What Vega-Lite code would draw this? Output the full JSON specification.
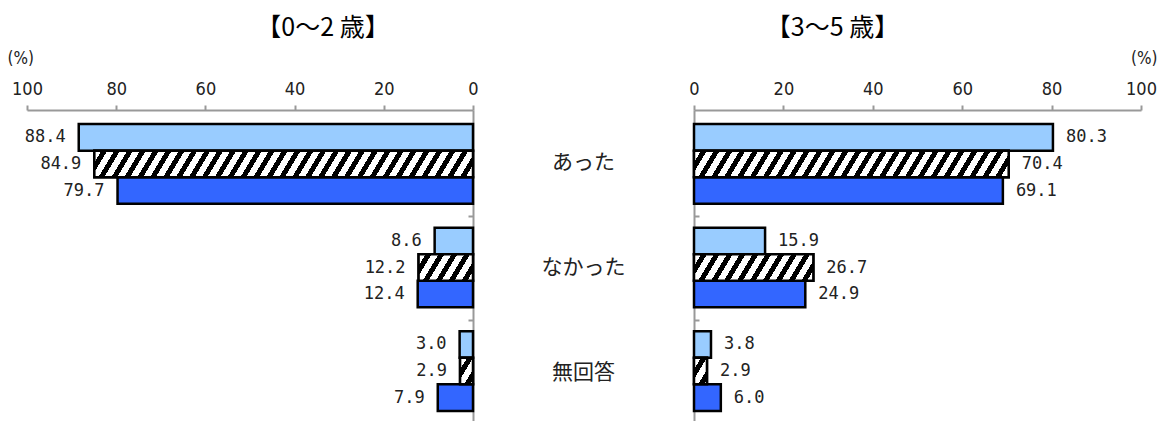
{
  "$schema": "https://vega.github.io/schema/vega-lite/v6.json",
  "background": "white",
  "padding": {"left": 7, "top": 16, "right": 0, "bottom": 0},
  "params": [
    {"name": "hatch", "value": [
{"offset":0,"color":"#fff"},{"offset":0.0177,"color":"#fff"},{"offset":0.0177,"color":"#000"},{"offset":0.0323,"color":"#000"},
{"offset":0.0323,"color":"#fff"},{"offset":0.05,"color":"#fff"},{"offset":0.05,"color":"#000"},{"offset":0.0645,"color":"#000"},
{"offset":0.0645,"color":"#fff"},{"offset":0.0823,"color":"#fff"},{"offset":0.0823,"color":"#000"},{"offset":0.0968,"color":"#000"},
{"offset":0.0968,"color":"#fff"},{"offset":0.1145,"color":"#fff"},{"offset":0.1145,"color":"#000"},{"offset":0.129,"color":"#000"},
{"offset":0.129,"color":"#fff"},{"offset":0.1468,"color":"#fff"},{"offset":0.1468,"color":"#000"},{"offset":0.1613,"color":"#000"},
{"offset":0.1613,"color":"#fff"},{"offset":0.179,"color":"#fff"},{"offset":0.179,"color":"#000"},{"offset":0.1935,"color":"#000"},
{"offset":0.1935,"color":"#fff"},{"offset":0.2113,"color":"#fff"},{"offset":0.2113,"color":"#000"},{"offset":0.2258,"color":"#000"},
{"offset":0.2258,"color":"#fff"},{"offset":0.2435,"color":"#fff"},{"offset":0.2435,"color":"#000"},{"offset":0.2581,"color":"#000"},
{"offset":0.2581,"color":"#fff"},{"offset":0.2758,"color":"#fff"},{"offset":0.2758,"color":"#000"},{"offset":0.2903,"color":"#000"},
{"offset":0.2903,"color":"#fff"},{"offset":0.3081,"color":"#fff"},{"offset":0.3081,"color":"#000"},{"offset":0.3226,"color":"#000"},
{"offset":0.3226,"color":"#fff"},{"offset":0.3403,"color":"#fff"},{"offset":0.3403,"color":"#000"},{"offset":0.3548,"color":"#000"},
{"offset":0.3548,"color":"#fff"},{"offset":0.3726,"color":"#fff"},{"offset":0.3726,"color":"#000"},{"offset":0.3871,"color":"#000"},
{"offset":0.3871,"color":"#fff"},{"offset":0.4048,"color":"#fff"},{"offset":0.4048,"color":"#000"},{"offset":0.4194,"color":"#000"},
{"offset":0.4194,"color":"#fff"},{"offset":0.4371,"color":"#fff"},{"offset":0.4371,"color":"#000"},{"offset":0.4516,"color":"#000"},
{"offset":0.4516,"color":"#fff"},{"offset":0.4694,"color":"#fff"},{"offset":0.4694,"color":"#000"},{"offset":0.4839,"color":"#000"},
{"offset":0.4839,"color":"#fff"},{"offset":0.5016,"color":"#fff"},{"offset":0.5016,"color":"#000"},{"offset":0.5161,"color":"#000"},
{"offset":0.5161,"color":"#fff"},{"offset":0.5339,"color":"#fff"},{"offset":0.5339,"color":"#000"},{"offset":0.5484,"color":"#000"},
{"offset":0.5484,"color":"#fff"},{"offset":0.5661,"color":"#fff"},{"offset":0.5661,"color":"#000"},{"offset":0.5806,"color":"#000"},
{"offset":0.5806,"color":"#fff"},{"offset":0.5984,"color":"#fff"},{"offset":0.5984,"color":"#000"},{"offset":0.6129,"color":"#000"},
{"offset":0.6129,"color":"#fff"},{"offset":0.6306,"color":"#fff"},{"offset":0.6306,"color":"#000"},{"offset":0.6452,"color":"#000"},
{"offset":0.6452,"color":"#fff"},{"offset":0.6629,"color":"#fff"},{"offset":0.6629,"color":"#000"},{"offset":0.6774,"color":"#000"},
{"offset":0.6774,"color":"#fff"},{"offset":0.6952,"color":"#fff"},{"offset":0.6952,"color":"#000"},{"offset":0.7097,"color":"#000"},
{"offset":0.7097,"color":"#fff"},{"offset":0.7274,"color":"#fff"},{"offset":0.7274,"color":"#000"},{"offset":0.7419,"color":"#000"},
{"offset":0.7419,"color":"#fff"},{"offset":0.7597,"color":"#fff"},{"offset":0.7597,"color":"#000"},{"offset":0.7742,"color":"#000"},
{"offset":0.7742,"color":"#fff"},{"offset":0.7919,"color":"#fff"},{"offset":0.7919,"color":"#000"},{"offset":0.8065,"color":"#000"},
{"offset":0.8065,"color":"#fff"},{"offset":0.8242,"color":"#fff"},{"offset":0.8242,"color":"#000"},{"offset":0.8387,"color":"#000"},
{"offset":0.8387,"color":"#fff"},{"offset":0.8565,"color":"#fff"},{"offset":0.8565,"color":"#000"},{"offset":0.871,"color":"#000"},
{"offset":0.871,"color":"#fff"},{"offset":0.8887,"color":"#fff"},{"offset":0.8887,"color":"#000"},{"offset":0.9032,"color":"#000"},
{"offset":0.9032,"color":"#fff"},{"offset":0.921,"color":"#fff"},{"offset":0.921,"color":"#000"},{"offset":0.9355,"color":"#000"},
{"offset":0.9355,"color":"#fff"},{"offset":0.9532,"color":"#fff"},{"offset":0.9532,"color":"#000"},{"offset":0.9677,"color":"#000"},
{"offset":0.9677,"color":"#fff"},{"offset":0.9855,"color":"#fff"},{"offset":0.9855,"color":"#000"},{"offset":1,"color":"#000"}
    ]}
  ],
  "data": {"values": [
    {"age": "0～2歳", "cat": "あった", "s": "系列1", "v": 88.4},
    {"age": "0～2歳", "cat": "あった", "s": "系列2", "v": 84.9},
    {"age": "0～2歳", "cat": "あった", "s": "系列3", "v": 79.7},
    {"age": "0～2歳", "cat": "なかった", "s": "系列1", "v": 8.6},
    {"age": "0～2歳", "cat": "なかった", "s": "系列2", "v": 12.2},
    {"age": "0～2歳", "cat": "なかった", "s": "系列3", "v": 12.4},
    {"age": "0～2歳", "cat": "無回答", "s": "系列1", "v": 3.0},
    {"age": "0～2歳", "cat": "無回答", "s": "系列2", "v": 2.9},
    {"age": "0～2歳", "cat": "無回答", "s": "系列3", "v": 7.9},
    {"age": "3～5歳", "cat": "あった", "s": "系列1", "v": 80.3},
    {"age": "3～5歳", "cat": "あった", "s": "系列2", "v": 70.4},
    {"age": "3～5歳", "cat": "あった", "s": "系列3", "v": 69.1},
    {"age": "3～5歳", "cat": "なかった", "s": "系列1", "v": 15.9},
    {"age": "3～5歳", "cat": "なかった", "s": "系列2", "v": 26.7},
    {"age": "3～5歳", "cat": "なかった", "s": "系列3", "v": 24.9},
    {"age": "3～5歳", "cat": "無回答", "s": "系列1", "v": 3.8},
    {"age": "3～5歳", "cat": "無回答", "s": "系列2", "v": 2.9},
    {"age": "3～5歳", "cat": "無回答", "s": "系列3", "v": 6.0}
  ]},
  "spacing": 0,
  "bounds": "flush",
  "hconcat": [
    {
      "width": 446,
      "height": 315,
      "title": {"text": "【0～2 歳】", "font": "Noto Sans CJK JP", "fontSize": 25, "fontWeight": "normal", "color": "#000", "anchor": "middle", "dx": 73, "offset": 8},
      "transform": [{"filter": "datum.age === '0～2歳'"}],
      "encoding": {
        "y": {"field": "cat", "type": "nominal", "sort": ["あった", "なかった", "無回答"],
              "scale": {"paddingInner": 0.23, "paddingOuter": 0.136},
              "axis": {"orient": "right", "labels": false, "title": null, "domainColor": "#999", "domainWidth": 2, "tickColor": "#999", "tickWidth": 2, "tickSize": -5, "tickOffset": 52}},
        "yOffset": {"field": "s", "type": "nominal", "sort": ["系列1", "系列2", "系列3"], "scale": {"paddingInner": 0, "paddingOuter": 0}},
        "x": {"field": "v", "type": "quantitative", "scale": {"domain": [0, 100], "reverse": true, "nice": false},
              "axis": {"orient": "top", "values": [0, 20, 40, 60, 80, 100], "title": "(%)", "titleX": -20, "titleY": -52, "titleAlign": "left", "titleBaseline": "middle", "titleFont": "DejaVu Sans Condensed, Roboto", "titleFontSize": 17, "titleFontWeight": "normal", "titleColor": "#222", "labelFont": "DejaVu Sans Condensed, Roboto", "labelFontSize": 18, "labelColor": "#222", "labelFlush": false, "labelPadding": 7, "tickSize": 5, "tickColor": "#999", "tickWidth": 2, "domainColor": "#999", "domainWidth": 2, "grid": false}}
      },
      "layer": [
        {"mark": {"type": "bar", "stroke": "#000", "strokeWidth": 2.5},
         "encoding": {"fill": {"field": "s", "type": "nominal", "scale": {"domain": ["系列1", "系列2", "系列3"], "range": ["#99CCFF", "#FFFFFF", "#3366FF"]}, "legend": null}}},
        {"transform": [{"filter": "datum.s === '系列2'"}],
         "mark": {"type": "bar", "stroke": "#000", "strokeWidth": 2.5,
                  "fill": {"expr": "{gradient: 'linear', x1: 0, y1: 0, x2: 400*4.46*datum.v/(pow(4.46*datum.v,2)+254.7), y2: 400*15.96/(pow(4.46*datum.v,2)+254.7), stops: hatch}"}}},
        {"mark": {"type": "text", "align": "right", "baseline": "middle", "dx": -13, "font": "DejaVu Sans Mono", "fontSize": 17, "color": "#222"},
         "encoding": {"text": {"field": "v", "type": "quantitative", "format": ".1f"}}}
      ]
    },
    {
      "width": 221,
      "height": 315,
      "transform": [{"filter": "datum.age === '0～2歳' && datum.s === '系列1'"}],
      "mark": {"type": "text", "font": "Noto Sans CJK JP", "fontSize": 21, "color": "#222", "baseline": "middle"},
      "encoding": {
        "y": {"field": "cat", "type": "nominal", "sort": ["あった", "なかった", "無回答"], "scale": {"paddingInner": 0.23, "paddingOuter": 0.136}, "axis": null},
        "text": {"field": "cat", "type": "nominal"}
      }
    },
    {
      "width": 447,
      "height": 315,
      "title": {"text": "【3～5 歳】", "font": "Noto Sans CJK JP", "fontSize": 25, "fontWeight": "normal", "color": "#000", "anchor": "middle", "dx": -85, "offset": 8},
      "transform": [{"filter": "datum.age === '3～5歳'"}],
      "encoding": {
        "y": {"field": "cat", "type": "nominal", "sort": ["あった", "なかった", "無回答"],
              "scale": {"paddingInner": 0.23, "paddingOuter": 0.136},
              "axis": {"orient": "left", "labels": false, "title": null, "domainColor": "#999", "domainWidth": 2, "tickColor": "#999", "tickWidth": 2, "tickSize": -5, "tickOffset": 52}},
        "yOffset": {"field": "s", "type": "nominal", "sort": ["系列1", "系列2", "系列3"], "scale": {"paddingInner": 0, "paddingOuter": 0}},
        "x": {"field": "v", "type": "quantitative", "scale": {"domain": [0, 100], "nice": false},
              "axis": {"orient": "top", "values": [0, 20, 40, 60, 80, 100], "title": "(%)", "titleX": 463, "titleY": -52, "titleAlign": "right", "titleBaseline": "middle", "titleFont": "DejaVu Sans Condensed, Roboto", "titleFontSize": 17, "titleFontWeight": "normal", "titleColor": "#222", "labelFont": "DejaVu Sans Condensed, Roboto", "labelFontSize": 18, "labelColor": "#222", "labelFlush": false, "labelPadding": 7, "tickSize": 5, "tickColor": "#999", "tickWidth": 2, "domainColor": "#999", "domainWidth": 2, "grid": false}}
      },
      "layer": [
        {"mark": {"type": "bar", "stroke": "#000", "strokeWidth": 2.5},
         "encoding": {"fill": {"field": "s", "type": "nominal", "scale": {"domain": ["系列1", "系列2", "系列3"], "range": ["#99CCFF", "#FFFFFF", "#3366FF"]}, "legend": null}}},
        {"transform": [{"filter": "datum.s === '系列2'"}],
         "mark": {"type": "bar", "stroke": "#000", "strokeWidth": 2.5,
                  "fill": {"expr": "{gradient: 'linear', x1: 0, y1: 0, x2: 400*4.47*datum.v/(pow(4.47*datum.v,2)+254.7), y2: 400*15.96/(pow(4.47*datum.v,2)+254.7), stops: hatch}"}}},
        {"mark": {"type": "text", "align": "left", "baseline": "middle", "dx": 13, "font": "DejaVu Sans Mono", "fontSize": 17, "color": "#222"},
         "encoding": {"text": {"field": "v", "type": "quantitative", "format": ".1f"}}}
      ]
    }
  ],
  "config": {
    "view": {"stroke": null},
    "axis": {"grid": false}
  }
}
